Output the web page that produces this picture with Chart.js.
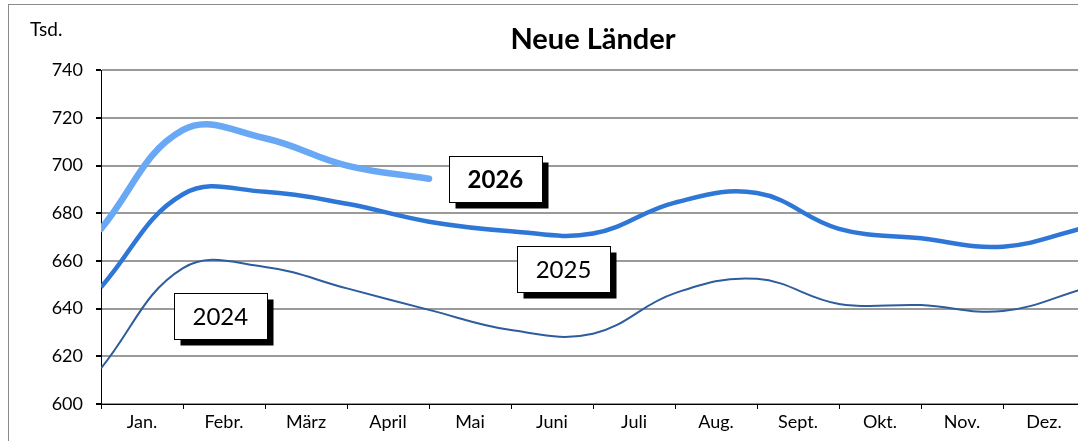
<!DOCTYPE html>
<html>
<head>
<meta charset="utf-8">
<script src="https://cdn.jsdelivr.net/npm/chart.js@4.4.1/dist/chart.umd.min.js"></script>
<style>
body{margin:0;overflow:hidden;background:#fff;width:1078px;height:441px;position:relative;}
#rahmen{position:absolute;left:8px;top:4px;width:1200px;height:600px;border:1px solid #8a8a8a;}
#box{position:absolute;left:0;top:0;width:1100px;height:441px;}
</style>
</head>
<body>
<div id="rahmen"></div>
<div id="box"><canvas id="grafico"></canvas></div>
<script>
let monate=['Jan.','Febr.','März','April','Mai','Juni','Juli','Aug.','Sept.','Okt.','Nov.','Dez.'];
// Stand jeweils zum Monatsende, erster Wert = Dezember des Vorjahres
let werte2024=[615,657,657.5,648.5,639.5,631,629.5,646.5,652.5,642,641.5,639,648.5];
let werte2025=[649,688,689,684,676.5,672.5,671.5,684.5,688.5,673.5,669.5,666,674];
let werte2026=[673.5,715,711.5,700,694.5];
let jahre=['2024','2025','2026'];
let yMin=600, yMax=740, yStep=20;

function punkte(werte){
    return werte.map((v,i)=>({x:i,y:v}));
}

// Beschriftungskästen, Lage in Datenkoordinaten
let kaesten=[
    {text:jahre[2],x:4.81,y:694.2,bold:true},
    {text:jahre[1],x:5.64,y:656.6,bold:false},
    {text:jahre[0],x:1.455,y:637.0,bold:false},
];

let kastenPlugin={
    id:'kaesten',
    afterDatasetsDraw(chart){
        let ctx=chart.ctx;
        let xs=chart.scales.xd, ys=chart.scales.y;
        ctx.save();
        kaesten.forEach(k=>{
            let cx=xs.getPixelForValue(k.x), cy=ys.getPixelForValue(k.y);
            let w=93, h=46;
            let l=Math.round(cx-w/2)+0.5, t=Math.round(cy-h/2)+0.5;
            ctx.fillStyle='#000';
            ctx.fillRect(l+6,t+6,w,h);
            ctx.fillStyle='#fff';
            ctx.fillRect(l,t,w,h);
            ctx.strokeStyle='#000';
            ctx.lineWidth=1;
            ctx.strokeRect(l,t,w,h);
            ctx.fillStyle='#000';
            ctx.font=(k.bold?'bold ':'')+'24px Lato';
            ctx.textAlign='center';
            ctx.textBaseline='middle';
            ctx.fillText(k.text,cx,cy+1);
        });
        ctx.font='19px Lato';
        ctx.textAlign='left';
        ctx.textBaseline='middle';
        ctx.fillText('Tsd.',30,30);
        ctx.restore();
    }
};

let CanvasG=document.getElementById('grafico').getContext('2d');
let datos={
    labels:monate,
    datasets:[
        {
            label:jahre[0],
            data:punkte(werte2024),
            xAxisID:'xd',
            borderColor:'#2d5d9d',
            borderWidth:2,
            pointRadius:0,
            tension:0.4,
            fill:false,
        },
        {
            label:jahre[1],
            data:punkte(werte2025),
            xAxisID:'xd',
            borderColor:'#2f77d6',
            borderWidth:4.5,
            pointRadius:0,
            tension:0.4,
            fill:false,
        },
        {
            label:jahre[2],
            data:punkte(werte2026),
            xAxisID:'xd',
            borderColor:'#68a8f4',
            borderWidth:6.5,
            borderCapStyle:'round',
            pointRadius:0,
            tension:0.4,
            fill:false,
        },
    ]
};
let opciones={
    responsive:true,
    maintainAspectRatio:false,
    animation:false,
    layout:{padding:{left:0,right:15,top:0,bottom:0}},
    plugins:{
        legend:{display:false},
        tooltip:{enabled:false},
        title:{
            display:true,
            text:'Neue Länder',
            fullSize:false,
            color:'#000',
            font:{family:'Lato',size:29,weight:'bold',lineHeight:1.2},
            padding:{top:22.5,bottom:13},
        },
    },
    scales:{
        x:{
            type:'category',
            offset:true,
            grid:{offset:true,drawOnChartArea:false,tickLength:5,tickColor:'#000'},
            border:{color:'#000',width:1},
            ticks:{color:'#000',font:{family:'Lato',size:18},padding:2,maxRotation:0,autoSkip:false},
            afterFit(scale){scale.height=37;},
        },
        xd:{
            type:'linear',
            display:false,
            min:0,
            max:monate.length,
        },
        y:{
            min:yMin,
            max:yMax,
            ticks:{stepSize:yStep,color:'#000',font:{family:'Lato',size:18},padding:13},
            grid:{color:'#9a9a9a',lineWidth:2,tickLength:5,tickColor:'#000'},
            border:{color:'#000',width:1},
            afterFit(scale){scale.width=101;},
        },
    },
};
let G=new Chart(CanvasG,{
    type:'line',
    data:datos,
    options:opciones,
    plugins:[kastenPlugin],
});
</script>
</body>
</html>
